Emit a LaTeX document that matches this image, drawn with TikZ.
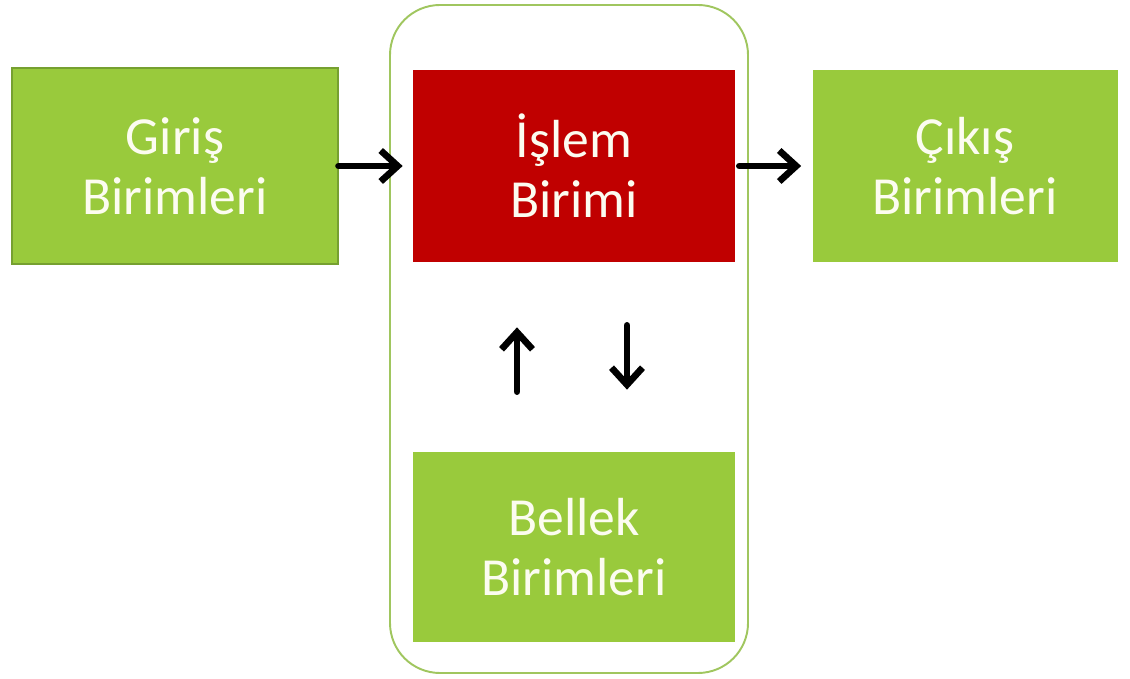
\documentclass[tikz,border=0pt]{standalone}
\usepackage{fontspec}
\setmainfont{Carlito}
\usepackage{tikz}
\usetikzlibrary{arrows.meta}
\definecolor{birimgreen}{RGB}{153,202,60}
\definecolor{birimdark}{RGB}{118,160,48}
\definecolor{islemred}{RGB}{192,0,0}
\definecolor{kapline}{RGB}{160,198,95}
\definecolor{yazi}{RGB}{252,252,240}
\tikzstyle{arrow} = [line width=3.8pt,-{Straight Barb[length=3.4mm,width=6.2mm]},line cap=round,line join=round]

\begin{document}
\begin{tikzpicture}
        [
            box/.style={rectangle,fill=birimgreen,text=yazi,align=center,inner sep=0pt,
                        font=\fontsize{30.5}{34}\selectfont},
        ]

    \useasboundingbox (0,0) rectangle (22.6,-13.58);

    % kapsayici
    \node[draw=kapline,line width=1.1pt,rounded corners=1cm,
          minimum width=7.16cm,minimum height=13.36cm] (cpu) at (11.38,-6.78){};

    \node[box,draw=birimdark,line width=0.6pt,minimum width=6.52cm,minimum height=3.92cm] (giris) at (3.5,-3.32){Giriş\\Birimleri};
    \node[box,fill=islemred,minimum width=6.44cm,minimum height=3.84cm] (islem) at (11.48,-3.32){İşlem\\Birimi};
    \node[box,minimum width=6.1cm,minimum height=3.84cm] (cikis) at (19.3,-3.32){Çıkış\\Birimleri};
    \node[box,minimum width=6.44cm,minimum height=3.8cm] (bellek) at (11.48,-10.94){Bellek\\Birimleri};

    \draw[arrow,shorten >=0.2cm] (giris.east) -- (islem.west);
    \draw[arrow,shorten <=0.08cm,shorten >=0.22cm] (islem.east) -- (cikis.west);
    \draw[arrow,shorten <=1.2cm,shorten >=1.3cm] ([xshift=-1.14cm]bellek.north) -- ([xshift=-1.14cm]islem.south);
    \draw[arrow,shorten <=1.26cm,shorten >=1.24cm] ([xshift=1.06cm]islem.south) -- ([xshift=1.06cm]bellek.north);
    \end{tikzpicture}
\end{document}
